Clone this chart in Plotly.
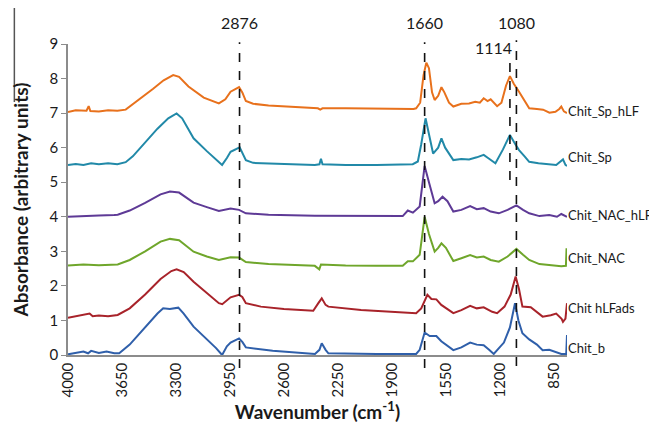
import plotly.graph_objects as go

# ---- data (wavenumber, absorbance offset) ----
sp_hlf_x = [4000,3950,3880,3866,3855,3800,3740,3680,3626,3550,3450,3380,3318,3280,3219,3120,3022,2980,2946,2891,2870,2847,2800,2700,2500,2380,2365,2350,2200,2000,1850,1760,1743,1717,1695,1677,1660,1640,1623,1600,1579,1560,1530,1502,1450,1400,1360,1330,1305,1280,1260,1240,1218,1190,1160,1135,1110,1076,1040,1010,960,920,879,840,815,802,785,765]
sp_hlf_y = [7.03,7.08,7.07,7.2,7.06,7.05,7.08,7.07,7.1,7.35,7.7,7.95,8.1,8.05,7.77,7.45,7.28,7.4,7.62,7.75,7.6,7.35,7.27,7.22,7.17,7.14,7.1,7.14,7.14,7.13,7.12,7.12,7.14,7.3,8.1,8.46,8.3,7.6,7.38,7.5,7.75,7.6,7.3,7.19,7.27,7.28,7.33,7.3,7.43,7.35,7.4,7.3,7.2,7.3,7.8,8.07,7.85,7.62,7.35,7.14,7.12,7.1,7.01,7.04,7.12,7.19,7.05,7.0]

sp_x = [4000,3950,3900,3850,3800,3740,3680,3626,3580,3500,3420,3350,3296,3260,3186,3100,3040,3001,2970,2946,2887,2870,2847,2800,2600,2400,2370,2360,2350,2200,2000,1800,1765,1732,1710,1682,1660,1633,1600,1579,1555,1502,1450,1400,1350,1305,1270,1229,1180,1135,1100,1076,1040,1010,950,880,835,791,775,765]
sp_y = [5.5,5.53,5.5,5.55,5.52,5.55,5.52,5.58,5.75,6.15,6.55,6.85,6.99,6.85,6.27,5.9,5.65,5.5,5.7,5.88,6.01,5.85,5.64,5.56,5.53,5.5,5.52,5.68,5.52,5.5,5.5,5.5,5.52,5.6,6.1,6.85,6.4,5.83,6.0,6.27,6.0,5.64,5.67,5.66,5.72,5.79,5.68,5.55,5.95,6.37,6.1,5.93,5.75,5.59,5.55,5.52,5.5,5.66,5.5,5.47]

nac_hlf_x = [4000,3900,3800,3700,3678,3600,3500,3400,3339,3280,3186,3100,3022,2946,2891,2847,2700,2400,2000,1830,1797,1764,1720,1688,1660,1623,1600,1572,1540,1502,1450,1393,1350,1305,1260,1207,1150,1093,1050,1010,944,880,830,802,765]
nac_hlf_y = [4.0,4.03,4.04,4.05,4.06,4.18,4.4,4.65,4.73,4.7,4.41,4.28,4.17,4.24,4.2,4.1,4.06,4.03,4.02,4.02,4.18,4.12,4.3,5.47,5.0,4.39,4.45,4.58,4.45,4.15,4.2,4.31,4.22,4.25,4.15,4.1,4.2,4.33,4.2,4.1,4.02,4.05,4.0,4.08,4.0]

nac_x = [4000,3900,3800,3700,3678,3600,3500,3400,3339,3280,3186,3100,3022,2946,2891,2847,2700,2400,2380,2371,2360,2200,2000,1830,1797,1764,1720,1688,1660,1623,1600,1579,1550,1502,1450,1393,1350,1305,1260,1207,1150,1093,1050,1010,944,880,802,772,768]
nac_y = [2.59,2.62,2.6,2.6,2.62,2.75,3.0,3.28,3.36,3.32,2.99,2.85,2.75,2.83,2.82,2.69,2.63,2.58,2.5,2.48,2.62,2.59,2.58,2.58,2.71,2.71,2.9,4.0,3.5,2.99,3.1,3.23,3.1,2.72,2.8,2.89,2.82,2.85,2.75,2.7,2.85,3.07,2.9,2.75,2.63,2.6,2.57,2.58,3.09]

hlfads_x = [4000,3950,3900,3860,3840,3800,3740,3678,3600,3500,3400,3330,3296,3250,3186,3100,3022,3000,2946,2891,2870,2847,2750,2600,2410,2377,2355,2330,2312,2100,1900,1743,1710,1670,1644,1612,1580,1546,1502,1450,1393,1350,1305,1250,1218,1170,1130,1098,1076,1054,1000,923,870,835,800,791,775,765]
hlfads_y = [1.08,1.12,1.15,1.2,1.12,1.14,1.12,1.16,1.35,1.75,2.2,2.43,2.48,2.4,2.12,1.78,1.5,1.47,1.67,1.74,1.68,1.5,1.4,1.33,1.28,1.5,1.64,1.45,1.4,1.3,1.25,1.21,1.35,1.74,1.62,1.61,1.45,1.35,1.21,1.3,1.42,1.35,1.38,1.25,1.21,1.4,1.75,2.27,1.9,1.4,1.38,1.11,1.15,1.2,1.05,0.96,1.05,1.5]

b_x = [4000,3950,3900,3870,3850,3800,3750,3700,3668,3600,3500,3420,3383,3340,3285,3250,3186,3100,3040,3001,2970,2946,2891,2870,2847,2673,2500,2399,2370,2355,2330,2312,2000,1743,1720,1688,1655,1612,1580,1546,1502,1450,1393,1350,1305,1270,1240,1174,1135,1102,1080,1054,1010,960,923,880,802,770,765]
b_y = [0.02,0.05,0.1,0.05,0.12,0.06,0.1,0.05,0.05,0.3,0.8,1.2,1.35,1.33,1.37,1.2,0.82,0.45,0.2,0.0,0.25,0.36,0.48,0.38,0.22,0.12,0.06,0.03,0.15,0.34,0.15,0.05,0.03,0.03,0.15,0.65,0.55,0.55,0.4,0.29,0.14,0.22,0.36,0.3,0.28,0.15,0.03,0.36,0.8,1.5,1.0,0.63,0.45,0.3,0.14,0.15,0.03,0.03,0.58]

series_names = ["Chit_Sp_hLF", "Chit_Sp", "Chit_NAC_hLF", "Chit_NAC", "Chit hLFads", "Chit_b"]
series_x = [sp_hlf_x, sp_x, nac_hlf_x, nac_x, hlfads_x, b_x]
series_y = [sp_hlf_y, sp_y, nac_hlf_y, nac_y, hlfads_y, b_y]
label_y = [7.05, 5.74, 4.06, 2.81, 1.36, 0.2]
colors = ["#E8711C", "#2189A8", "#5E3A96", "#6FA62B", "#A8232A", "#2F5FAA"]

# marker lines (position on axis, label text); vertical placement in paper units
mark_pos = [2888, 1688, 1135, 1093]
mark_text = ["2876", "1660", "1114", "1080"]
mark_label_y = [1.068, 1.068, 0.99, 1.068]
mark_top = [1.006, 1.006, 0.961, 1.012]
mark_bot = [-0.042, -0.042, 0.563, -0.035]

x_ticks = [4000, 3650, 3300, 2950, 2600, 2250, 1900, 1550, 1200, 850]

FONT = "Lato, Carlito, Calibri, 'Open Sans', sans-serif"

fig = go.Figure()
for nm, xs, ys, c in zip(series_names, series_x, series_y, colors):
    fig.add_trace(go.Scatter(x=xs, y=ys, mode="lines", name=nm,
                             line=dict(color=c, width=2), showlegend=False,
                             hoverinfo="skip"))

for nm, ly in zip(series_names, label_y):
    fig.add_annotation(x=765, y=ly, xref="x", yref="y", text=nm, showarrow=False,
                       xanchor="left", yanchor="middle", xshift=-1,
                       font=dict(family=FONT, size=13, color="#1a1a1a"))

for p, t, ly, top, bot in zip(mark_pos, mark_text, mark_label_y, mark_top, mark_bot):
    fig.add_shape(type="line", x0=p, x1=p, y0=bot, y1=top, xref="x", yref="paper",
                  line=dict(color="#111111", width=1.6, dash="dash"))
    fig.add_annotation(x=p, y=ly, xref="x", yref="paper", text=t, showarrow=False,
                       xanchor="center" if t != "1114" else "right",
                       xshift=0 if t != "1114" else 4,
                       yanchor="middle",
                       font=dict(family=FONT, size=16, color="#1a1a1a"))

# stray border line at the left edge of the picture
fig.add_shape(type="line", xref="paper", yref="paper",
              x0=-53/493, x1=-53/493, y0=1 + 44/311, y1=(355 - 102) / 311,
              line=dict(color="#555555", width=1.5))

# the page body adds an 8px margin, so the figure is sized to fit inside it
fig.update_layout(
    width=649, height=423,
    margin=dict(l=58, r=90, t=36, b=76),
    paper_bgcolor="white", plot_bgcolor="white",
    font=dict(family=FONT, color="#1a1a1a"),
    xaxis=dict(range=[4000, 765], tickmode="array", tickvals=x_ticks,
               ticktext=[str(v) for v in x_ticks], tickangle=-90,
               tickfont=dict(size=15, family=FONT), showgrid=False, zeroline=False,
               showline=True, linecolor="#8c8c8c", linewidth=1.5, ticks="",
               title=dict(text="<b>Wavenumber (cm<sup>-1</sup>)</b>",
                          font=dict(size=19, family=FONT), standoff=8)),
    yaxis=dict(range=[0, 9], dtick=1, tickfont=dict(size=15, family=FONT),
               showgrid=False, zeroline=False, showline=True, linecolor="#8c8c8c",
               linewidth=1.5, ticks="outside", ticklen=5, tickcolor="#8c8c8c",
               title=dict(text="<b>Absorbance (arbitrary units)</b>",
                          font=dict(size=19, family=FONT), standoff=16)),
)

fig.write_html("out.html")
